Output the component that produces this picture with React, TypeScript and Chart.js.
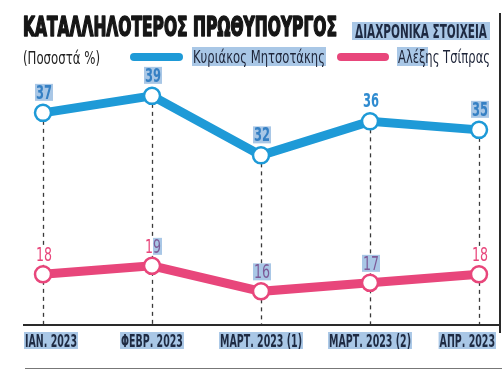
import React, { useEffect, useRef } from "react";
import { Chart, registerables } from "chart.js";

Chart.register(...registerables);

const categories = ["ΙΑΝ. 2023", "ΦΕΒΡ. 2023", "ΜΑΡΤ. 2023 (1)", "ΜΑΡΤ. 2023 (2)", "ΑΠΡ. 2023"];
const mitsotakis = [37, 39, 32, 36, 35];
const tsipras = [18, 19, 16, 17, 18];
const seriesNames = ["Κυριάκος Μητσοτάκης", "Αλέξης Τσίπρας"];
const titleText = "ΚΑΤΑΛΛΗΛΟΤΕΡΟΣ ΠΡΩΘΥΠΟΥΡΓΟΣ";
const subtitleText = "ΔΙΑΧΡΟΝΙΚΑ ΣΤΟΙΧΕΙΑ";
const unitText = "(Ποσοστά %)";

const BLUE = "#1e9ad7";
const PINK = "#e8467b";
const HL = "#a9c7e6";
const NAVY = "#1e2a42";
const FAM = "'Liberation Sans Narrow', 'DejaVu Sans Condensed', 'Roboto', 'Liberation Sans', sans-serif";

const blueHL = [true, true, true, false, true];
const pinkHL = [false, "partial", true, true, false];

function fitText(ctx: CanvasRenderingContext2D, text: string, x: number, y: number, sx: number, align: string, color: string, hl: any) {
  const w = ctx.measureText(text).width * sx;
  let x0 = x;
  if (align === "center") x0 = x - w / 2;
  else if (align === "right") x0 = x - w;
  if (hl) {
    ctx.fillStyle = hl === "white" ? "#ffffff" : HL;
    ctx.fillRect(x0 - 1, y - 15, w + 2, 17);
  }
  ctx.save();
  ctx.translate(x0, y);
  ctx.scale(sx, 1);
  ctx.fillStyle = color;
  ctx.textAlign = "left";
  ctx.textBaseline = "alphabetic";
  ctx.fillText(text, 0, 0);
  ctx.restore();
}

const overlayPlugin = {
  id: "overlayPlugin",
  beforeDatasetsDraw(chart: any) {
    const ctx = chart.ctx as CanvasRenderingContext2D;
    const xs = chart.scales.x;
    const ys = chart.scales.y;
    ctx.save();
    ctx.strokeStyle = "#3a3a3a";
    ctx.lineWidth = 1.3;
    ctx.setLineDash([4, 4]);
    for (let i = 0; i < categories.length; i++) {
      const x = Math.round(xs.getPixelForValue(i)) + 0.5;
      const y = ys.getPixelForValue(mitsotakis[i]);
      ctx.beginPath();
      ctx.moveTo(x, y);
      ctx.lineTo(x, chart.chartArea.bottom);
      ctx.stroke();
    }
    ctx.restore();
  },
  afterDatasetsDraw(chart: any) {
    const ctx = chart.ctx as CanvasRenderingContext2D;
    const xs = chart.scales.x;
    const ys = chart.scales.y;
    const area = chart.chartArea;
    ctx.save();
    // axis line
    ctx.strokeStyle = "#2a2a2a";
    ctx.lineWidth = 2;
    ctx.beginPath();
    ctx.moveTo(23, area.bottom);
    ctx.lineTo(501, area.bottom);
    ctx.stroke();
    // right border
    ctx.beginPath();
    ctx.moveTo(500, 13);
    ctx.lineTo(500, area.bottom + 8);
    ctx.stroke();
    // bottom rule
    ctx.strokeStyle = "#777";
    ctx.lineWidth = 1;
    ctx.beginPath();
    ctx.moveTo(25, 368.5);
    ctx.lineTo(502, 368.5);
    ctx.stroke();

    // value labels
    ctx.font = "bold 19px " + FAM;
    const sxB = 16 / ctx.measureText("37").width;
    for (let i = 0; i < mitsotakis.length; i++) {
      const x = xs.getPixelForValue(i);
      const y = ys.getPixelForValue(mitsotakis[i]);
      fitText(ctx, String(mitsotakis[i]), x + 1, y - 14, sxB, "center", blueHL[i] ? "#3680c4" : "#2f8bd0", blueHL[i] ? true : "white");
    }
    ctx.font = "19px " + FAM;
    const sxP = 16 / ctx.measureText("18").width;
    for (let i = 0; i < tsipras.length; i++) {
      const x = xs.getPixelForValue(i);
      const y = ys.getPixelForValue(tsipras[i]);
      const hl = pinkHL[i];
      if (hl === "partial") {
        const t = String(tsipras[i]);
        const w = ctx.measureText(t).width * sxP;
        const x0 = x + 1 - w / 2;
        const w1 = ctx.measureText(t.slice(0, 1)).width * sxP;
        ctx.fillStyle = "#ffffff";
        ctx.fillRect(x0 - 1, y - 28, w1 + 1, 17);
        ctx.fillStyle = HL;
        ctx.fillRect(x0 + w1, y - 28, w - w1 + 1, 17);
        fitText(ctx, t.slice(0, 1), x0, y - 13, sxP, "left", PINK, false);
        fitText(ctx, t.slice(1), x0 + w1, y - 13, sxP, "left", "#7c5b98", false);
      } else {
        fitText(ctx, String(tsipras[i]), x + 1, y - 13, sxP, "center", hl ? "#7c5b98" : PINK, hl ? true : "white");
      }
    }

    // category labels
    ctx.font = "bold 17px " + FAM;
    const sxT = 52 / ctx.measureText(categories[0]).width;
    for (let i = 0; i < categories.length; i++) {
      let x = xs.getPixelForValue(i);
      let align = "center";
      if (i === 0) { x = 25; align = "left"; }
      else if (i === categories.length - 1) { x = 495; align = "right"; }
      fitText(ctx, categories[i], x, 347, sxT, align, NAVY, true);
    }
    ctx.restore();
  },
};

export default function App() {
  const canvasRef = useRef<HTMLCanvasElement | null>(null);

  useEffect(() => {
    const canvas = canvasRef.current;
    if (!canvas) return;
    const chart = new Chart(canvas, {
      type: "line",
      data: {
        labels: categories,
        datasets: [
          {
            label: seriesNames[0],
            data: mitsotakis,
            borderColor: BLUE,
            borderWidth: 9,
            pointRadius: 8,
            pointBorderWidth: 2.5,
            pointBackgroundColor: "#ffffff",
            pointBorderColor: BLUE,
            tension: 0,
            clip: false as any,
          },
          {
            label: seriesNames[1],
            data: tsipras,
            borderColor: PINK,
            borderWidth: 9,
            pointRadius: 8,
            pointBorderWidth: 2.5,
            pointBackgroundColor: "#ffffff",
            pointBorderColor: PINK,
            tension: 0,
            clip: false as any,
          },
        ],
      },
      options: {
        animation: false,
        responsive: false,
        layout: { padding: { left: 43, right: 23, top: 60, bottom: 45 } },
        scales: {
          x: { type: "category", display: false, offset: false },
          y: { type: "linear", display: false, min: 12.04, max: 43.22 },
        },
        plugins: {
          legend: { display: false },
          title: { display: false },
          tooltip: { enabled: false },
        },
        events: [],
      },
      plugins: [overlayPlugin],
    });
    return () => chart.destroy();
  }, []);

  return (
    <div style={{ position: "absolute", left: 0, top: 0, width: 502, height: 370, background: "#fff", overflow: "hidden" }}>
      <canvas ref={canvasRef} width={502} height={370} style={{ position: "absolute", left: 0, top: 0, width: 502, height: 370 }} />
      <svg width={502} height={370} style={{ position: "absolute", left: 0, top: 0, pointerEvents: "none" }}>
        <text x={23} y={36} fontFamily={FAM} fontWeight={900} fontSize={26} fill="#161616" stroke="#161616" strokeWidth={1.6}
          strokeLinejoin="round" textLength={314} lengthAdjust="spacingAndGlyphs">{titleText}</text>
        <rect x={352} y={22} width={138} height={18} fill={HL} />
        <text x={355} y={38} fontFamily={FAM} fontWeight={700} fontSize={20} fill={NAVY}
          textLength={132} lengthAdjust="spacingAndGlyphs">{subtitleText}</text>
        <text x={23} y={64} fontFamily={FAM} fontWeight={400} fontSize={17} fill="#222"
          textLength={77} lengthAdjust="spacingAndGlyphs">{unitText}</text>
        <line x1={134} y1={57} x2={179} y2={57} stroke={BLUE} strokeWidth={8} strokeLinecap="round" />
        <rect x={192} y={47} width={134} height={19} fill={HL} />
        <text x={193} y={63} fontFamily={FAM} fontWeight={400} fontSize={18} fill="#1d2438"
          textLength={132} lengthAdjust="spacingAndGlyphs">{seriesNames[0]}</text>
        <line x1={341} y1={57} x2={385} y2={57} stroke={PINK} strokeWidth={8} strokeLinecap="round" />
        <rect x={397} y={47} width={31} height={19} fill={HL} />
        <text x={398} y={63} fontFamily={FAM} fontWeight={400} fontSize={18} fill="#1d2438"
          textLength={92} lengthAdjust="spacingAndGlyphs">{seriesNames[1]}</text>
      </svg>
    </div>
  );
}
